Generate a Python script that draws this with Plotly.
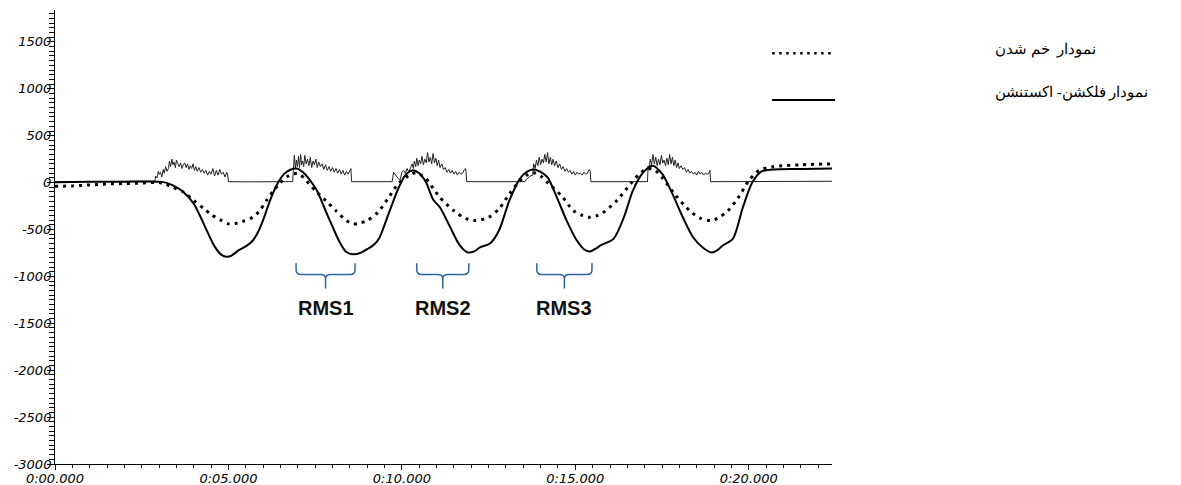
import plotly.graph_objects as go

# ---------------- data ----------------
# flexion-extension (solid)
flex_t = [0, 1.0, 2.0, 3.0, 3.2, 3.4, 3.7, 4.0, 4.2, 4.4, 4.6, 4.8, 4.95, 5.1, 5.3, 5.5, 5.7, 5.85,
          6.0, 6.2, 6.4, 6.6, 6.8, 6.97, 7.15, 7.3, 7.55, 7.8, 8.0, 8.2, 8.4, 8.6, 8.8, 9.0, 9.2, 9.35,
          9.5, 9.7, 9.9, 10.1, 10.3, 10.5, 10.7, 10.9, 11.1, 11.4, 11.67, 11.9, 12.1, 12.25, 12.54, 12.8,
          13.1, 13.4, 13.6, 13.78, 14.0, 14.2, 14.47, 14.75, 15.04, 15.25, 15.42, 15.6, 15.75, 16.1, 16.4,
          16.66, 16.95, 17.23, 17.5, 17.8, 18.1, 18.4, 18.7, 18.93, 19.1, 19.25, 19.54, 19.83, 20.1, 20.37,
          20.7, 21.5, 22.4]
flex_v = [5, 10, 10, 10, 0, -30, -100, -225, -370, -530, -680, -770, -790, -775, -720, -680, -620, -530,
          -400, -190, -20, 90, 140, 150, 110, 50, -85, -300, -470, -630, -740, -765, -750, -710, -660, -590,
          -450, -250, -60, 80, 130, 100, 0, -180, -265, -480, -670, -745, -730, -690, -650, -510,
          -190, 40, 115, 140, 115, 55, -160, -405, -615, -710, -735, -700, -665, -600, -370,
          -85, 105, 180, 95, -120, -370, -585, -700, -745, -720, -670, -600, -265, 0, 120,
          140, 145, 150]

# bending (dotted)
bend_t = [0, 0.5, 1.0, 1.5, 2.0, 2.5, 3.0, 3.2, 3.4, 3.7, 4.0, 4.3, 4.5, 4.75, 5.0, 5.2, 5.4, 5.7, 5.9,
          6.1, 6.3, 6.5, 6.7, 6.9, 7.05, 7.2, 7.5, 7.8, 8.1, 8.4, 8.6, 8.8, 9.0, 9.3, 9.6, 9.9, 10.2, 10.4,
          10.6, 10.7, 10.95, 11.1, 11.5, 11.86, 12.1, 12.5, 12.8, 13.1, 13.4, 13.6, 13.8, 14.0, 14.2, 14.6,
          14.95, 15.2, 15.4, 15.6, 15.8, 16.2, 16.6, 16.9, 17.1, 17.3, 17.5, 17.9, 18.3, 18.6, 18.9, 19.1,
          19.4, 19.7, 20.0, 20.3, 20.7, 21.5, 22.4]
bend_v = [-40, -35, -25, -15, -10, -5, 0, -20, -50, -100, -190, -280, -340, -395, -440, -435, -415, -370, -300,
          -190, -85, 0, 65, 95, 90, 40, -85, -190, -300, -405, -440, -430, -405, -320, -170, -10, 75, 105,
          70, 40, -85, -160, -300, -385, -405, -370, -280, -120, 20, 80, 105, 70, 0, -140,
          -300, -350, -370, -355, -320, -190, -10, 110, 150, 130, 55, -140, -300, -380, -405, -380,
          -300, -160, 20, 130, 170, 190, 200]

# muscle activity (thin)
emg_t = [0, 1.0, 2.0, 2.8,
         2.88, 2.9, 2.94, 2.98, 3.0, 3.04, 3.08, 3.12, 3.15, 3.19, 3.23, 3.27, 3.3, 3.33, 3.37, 3.4, 3.43, 3.47,
         3.5, 3.54, 3.58, 3.62, 3.66, 3.7, 3.74, 3.78, 3.82, 3.86, 3.9, 3.94, 3.98, 4.02, 4.06, 4.1, 4.15,
         4.2, 4.25, 4.3, 4.35, 4.4, 4.45, 4.5, 4.55, 4.6, 4.65, 4.7, 4.75, 4.8, 4.85, 4.9, 4.95, 4.98, 5.0,
         5.5, 6.0, 6.5, 6.85,
         6.87, 6.9, 6.93, 6.96, 6.99, 7.02, 7.05, 7.08, 7.11, 7.14, 7.17, 7.2, 7.24, 7.28, 7.32, 7.36, 7.4,
         7.44, 7.48, 7.52, 7.56, 7.6, 7.65, 7.7, 7.75, 7.8, 7.85, 7.9, 7.95, 8.0, 8.05, 8.1, 8.15, 8.2,
         8.25, 8.3, 8.35, 8.4, 8.45, 8.5, 8.53, 8.55,
         9.0, 9.5, 9.72,
         9.76, 9.8, 9.85, 9.9, 9.95, 10.0, 10.05, 10.1, 10.15, 10.2, 10.25, 10.3,
         10.33, 10.36, 10.4, 10.43, 10.47, 10.5, 10.54, 10.58, 10.62, 10.66, 10.7, 10.74, 10.78, 10.82,
         10.86, 10.9, 10.94, 10.98, 11.02, 11.06, 11.1, 11.15, 11.2, 11.25, 11.3, 11.35, 11.4, 11.45, 11.5,
         11.55, 11.6, 11.65, 11.7, 11.75, 11.8, 11.84, 11.87,
         12.5, 13.0, 13.55,
         13.6, 13.7, 13.77,
         13.8, 13.84, 13.88, 13.92, 13.96, 14.0, 14.04, 14.08, 14.12, 14.16, 14.2, 14.24, 14.28, 14.32,
         14.36, 14.4, 14.45, 14.5, 14.55, 14.6, 14.65, 14.7, 14.75, 14.8, 14.85, 14.9, 14.95, 15.0, 15.05,
         15.1, 15.15, 15.2, 15.25, 15.3, 15.35, 15.4, 15.43, 15.45,
         16.0, 16.5, 17.08,
         17.1, 17.13, 17.16, 17.2, 17.24, 17.28, 17.32, 17.36, 17.4, 17.44, 17.48, 17.52, 17.56, 17.6,
         17.64, 17.68, 17.72, 17.76, 17.8, 17.84, 17.88, 17.92, 17.96, 18.0, 18.05, 18.1, 18.15, 18.2,
         18.25, 18.3, 18.35, 18.4, 18.45, 18.5, 18.55, 18.6, 18.65, 18.7, 18.75, 18.8, 18.85, 18.88, 18.9,
         19.5, 20.5, 21.5, 22.4]
emg_v = [8, 10, 8, 10,
         15, 70, 50, 120, 90, 110, 60, 140, 100, 170, 120, 150, 230, 170, 250, 190, 220, 160,
         240, 200, 170, 210, 150, 190, 210, 160, 200, 140, 180, 150, 200, 130, 170, 120, 160,
         110, 140, 100, 130, 80, 120, 90, 150, 70, 130, 80, 140, 90, 110, 60, 110, 80, 10,
         8, 10, 8, 10,
         120, 290, 150, 240, 170, 280, 160, 300, 190, 230, 170, 290, 200, 250, 180, 270, 160,
         230, 190, 250, 160, 220, 170, 200, 140, 190, 130, 170, 120, 160, 110, 150, 100, 140,
         90, 130, 80, 120, 90, 140, 150, 10,
         8, 10, 10,
         110, 90, 60, 40, 30, 110, 130, 100, 150, 110, 160, 200,
         150, 230, 170, 260, 180, 240, 200, 280, 190, 250, 210, 320, 220, 270,
         200, 310, 210, 260, 180, 240, 160, 200, 140, 160, 110, 140, 100, 130, 90,
         120, 80, 110, 90, 100, 140, 150, 10,
         8, 10, 10,
         40, 70, 80,
         200, 150, 240, 180, 270, 190, 250, 210, 300, 220, 320, 200, 270, 190,
         250, 180, 230, 160, 200, 140, 170, 120, 150, 110, 130, 90, 120, 80, 110,
         90, 100, 80, 110, 90, 100, 140, 120, 10,
         10, 8, 10,
         180, 150, 250, 190, 300, 200, 270, 180, 250, 190, 290, 210, 240, 180,
         260, 190, 300, 200, 270, 180, 240, 160, 210, 150, 180, 140, 160, 110,
         140, 100, 120, 90, 110, 80, 120, 90, 110, 80, 100, 90, 100, 130, 10,
         10, 12, 12, 14]

assert len(flex_t) == len(flex_v)
assert len(bend_t) == len(bend_v)
assert len(emg_t) == len(emg_v)

x_tickvals = [0, 5, 10, 15, 20]
x_ticktext = ["0:00.000", "0:05.000", "0:10.000", "0:15.000", "0:20.000"]
y_tickvals = [-3000, -2500, -2000, -1500, -1000, -500, 0, 500, 1000, 1500]
y_ticktext = ["-3000", "-2500", "-2000", "-1500", "-1000", "-500", "0", "500", "1000", "1500"]

legend_labels = ["نمودار  خم شدن", "نمودار فلکشن- اکستنشن"]
rms_labels = ["RMS1", "RMS2", "RMS3"]
rms_start = [6.95, 10.43, 13.89]
rms_end = [8.65, 11.93, 15.48]

# ---------------- figure ----------------
fig = go.Figure()
fig.add_trace(go.Scatter(x=emg_t, y=emg_v, mode="lines",
                         line=dict(color="#222222", width=1), showlegend=False))
fig.add_trace(go.Scatter(x=bend_t, y=bend_v, mode="lines",
                         line=dict(color="black", width=3, dash="3px,5px", shape="spline", smoothing=0.8),
                         showlegend=False))
fig.add_trace(go.Scatter(x=flex_t, y=flex_v, mode="lines",
                         line=dict(color="black", width=2, shape="spline", smoothing=0.8),
                         showlegend=False))

blue = "#2e64a6"
y_top, y_h, y_bot, y_lab = -860, -980, -1130, -1340
dx, dy = 0.15, 45
for a, b, lab in zip(rms_start, rms_end, rms_labels):
    m = (a + b) / 2
    path = (f"M {a},{y_top} L {a},{y_h + dy} Q {a},{y_h} {a + dx},{y_h} L {m - dx},{y_h} "
            f"Q {m},{y_h} {m},{y_h - dy} L {m},{y_bot} M {m},{y_h - dy} Q {m},{y_h} {m + dx},{y_h} "
            f"L {b - dx},{y_h} Q {b},{y_h} {b},{y_h + dy} L {b},{y_top}")
    fig.add_shape(type="path", path=path, xref="x", yref="y",
                  line=dict(color=blue, width=1.5))
    fig.add_annotation(x=m, y=y_lab, xref="x", yref="y", text=f"<b>{lab}</b>", showarrow=False,
                       font=dict(family="Liberation Sans, Arial, sans-serif", size=20, color="#111111"))

# legend (drawn manually to match the original layout)
fig.add_shape(type="line", xref="paper", yref="paper", x0=0.923, x1=1.004, y0=0.905, y1=0.905,
              line=dict(color="black", width=2.5, dash="2.5px,4.5px"))
fig.add_shape(type="line", xref="paper", yref="paper", x0=0.923, x1=1.004, y0=0.802, y1=0.802,
              line=dict(color="black", width=2))
legend_font = dict(family="Times New Roman, Liberation Serif, DejaVu Serif, serif", size=15, color="black")
fig.add_annotation(x=1.207, y=0.912, xref="paper", yref="paper", text=legend_labels[0],
                   showarrow=False, xanchor="left", yanchor="middle", font=legend_font)
fig.add_annotation(x=1.207, y=0.819, xref="paper", yref="paper", text=legend_labels[1],
                   showarrow=False, xanchor="left", yanchor="middle", font=legend_font)

tick_font = dict(family="DejaVu Sans, Verdana, sans-serif", size=13, color="black")
fig.update_xaxes(range=[0, 22.4], showgrid=False, zeroline=False, showline=True, linecolor="black",
                 linewidth=1, ticks="outside", ticklen=5, tickcolor="black", tickvals=x_tickvals,
                 ticktext=[f"<i>{t}</i>" for t in x_ticktext], tickfont=tick_font, automargin=False,
                 ticklabelstandoff=-3,
                 minor=dict(dtick=0.5, tick0=0, ticks="outside", ticklen=3, tickcolor="black", showgrid=False))
fig.update_yaxes(range=[-3000, 1840], showgrid=False, zeroline=False, showline=True, linecolor="black",
                 linewidth=1, ticks="outside", ticklen=7, tickcolor="black", tickvals=y_tickvals,
                 ticktext=[f"<i>{t}</i>" for t in y_ticktext], tickfont=tick_font, automargin=False,
                 ticklabelstandoff=-7,
                 minor=dict(dtick=50, tick0=0, ticks="outside", ticklen=5, tickcolor="black", showgrid=False))
# the page body adds an 8px offset, so the figure is 8px smaller than the window
fig.update_layout(width=1173, height=477, margin=dict(l=47, r=349, t=2, b=21),
                  plot_bgcolor="white", paper_bgcolor="white", showlegend=False)

fig.write_html("out.html")
